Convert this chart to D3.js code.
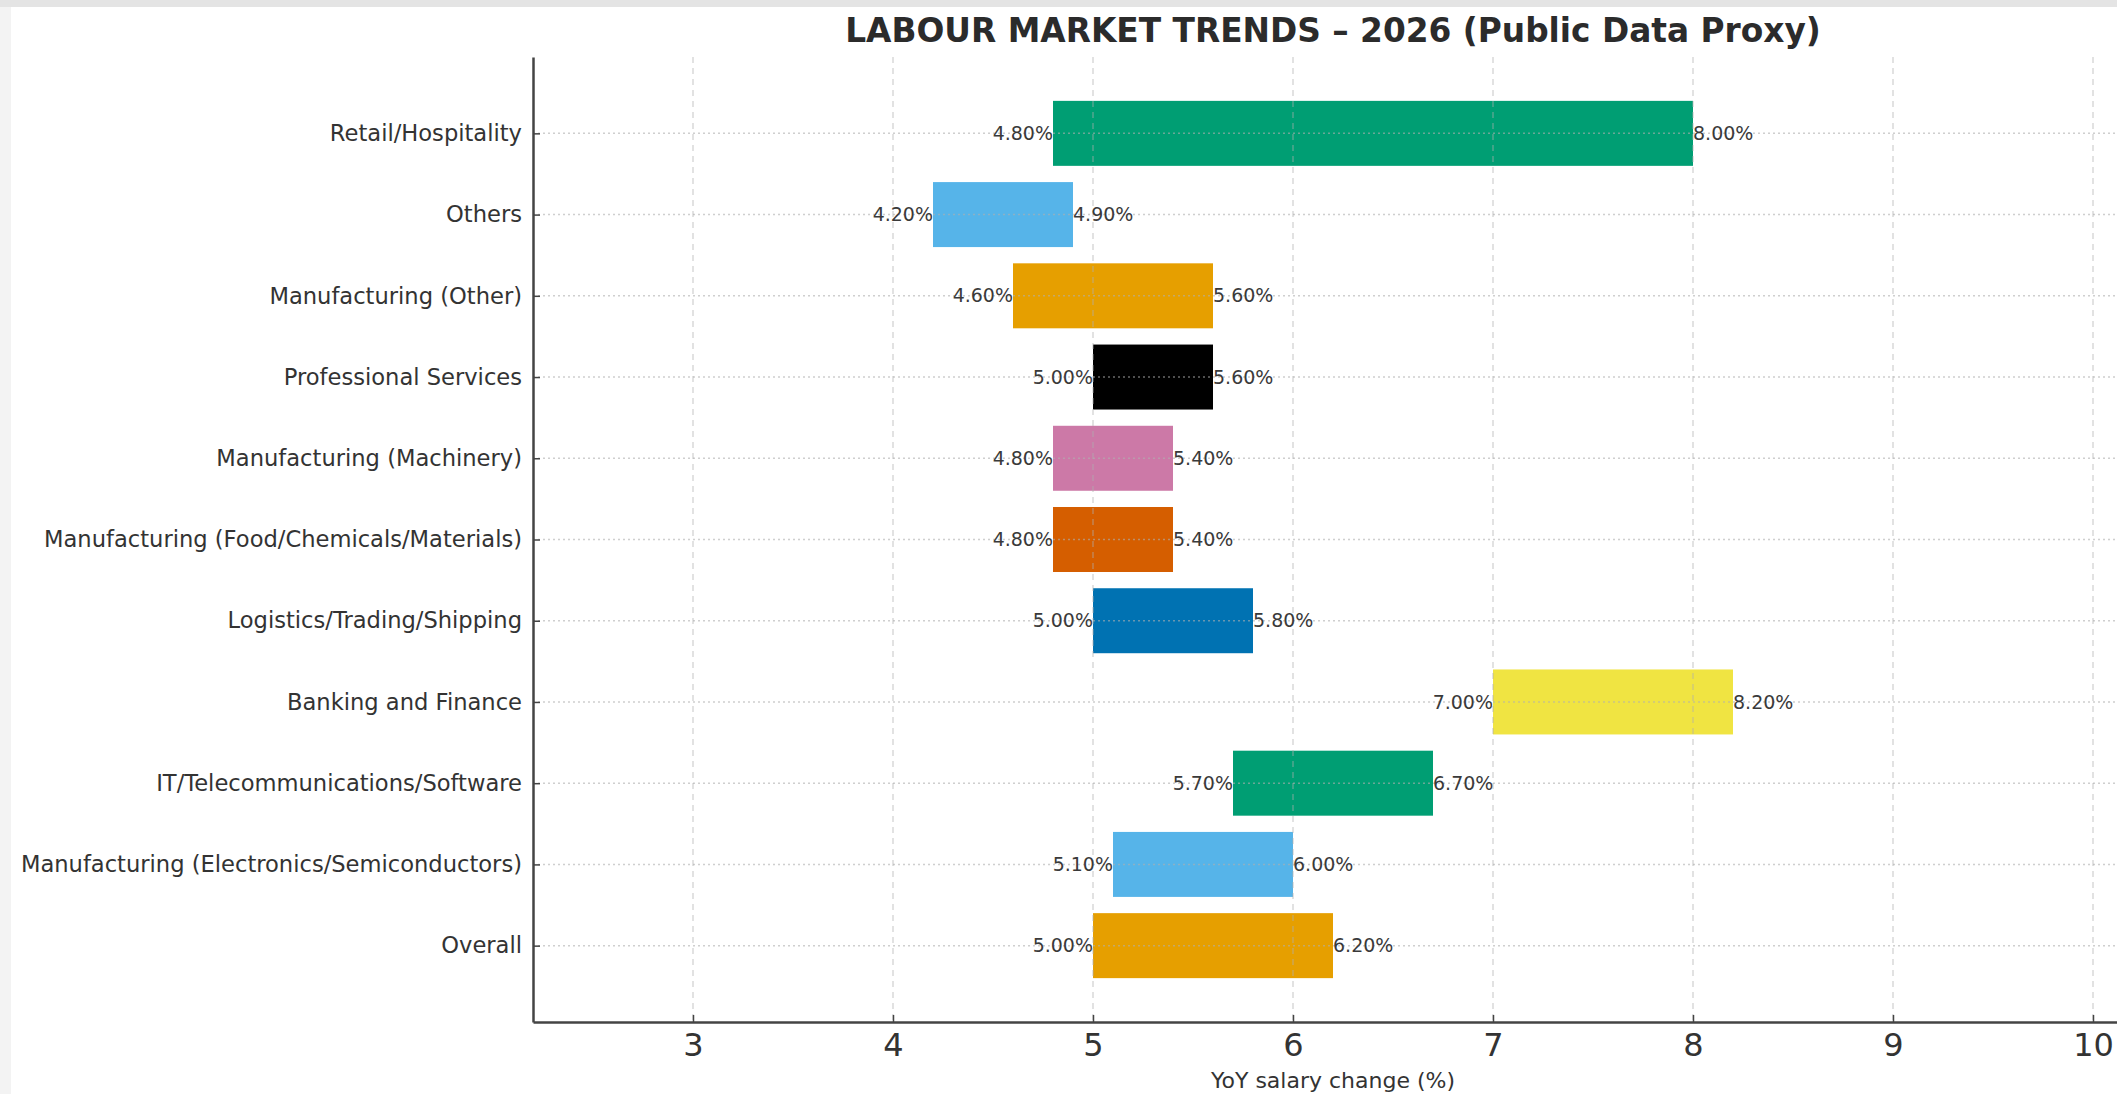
<!DOCTYPE html>
<html>
<head>
<meta charset="utf-8">
<script src="https://cdn.jsdelivr.net/npm/d3@7"></script>
<style>
  html, body { margin: 0; padding: 0; background: #fff; }
  svg { display: block; }
  .axis text { font-family: "DejaVu Sans", sans-serif; fill: #333; }
  .axis path, .axis line { stroke: #444; }
</style>
</head>
<body>
<div id="chart"></div>
<script>
// categories, bottom to top (matplotlib barh order)
var categories = ["Overall", "Manufacturing (Electronics/Semiconductors)", "IT/Telecommunications/Software",
  "Banking and Finance", "Logistics/Trading/Shipping", "Manufacturing (Food/Chemicals/Materials)",
  "Manufacturing (Machinery)", "Professional Services", "Manufacturing (Other)", "Others", "Retail/Hospitality"];
var lowValues  = [5.0, 5.1, 5.7, 7.0, 5.0, 4.8, 4.8, 5.0, 4.6, 4.2, 4.8];
var highValues = [6.2, 6.0, 6.7, 8.2, 5.8, 5.4, 5.4, 5.6, 5.6, 4.9, 8.0];
var xTicks = [3, 4, 5, 6, 7, 8, 9, 10];
var palette = ["#E69F00", "#56B4E9", "#009E73", "#F0E442", "#0072B2", "#D55E00", "#CC79A7", "#000000"];

var W = 2117, H = 1094;
var margin = {top: 57, right: -16, bottom: 72, left: 533};
var width = W - margin.left - margin.right;
var height = H - margin.top - margin.bottom;

var data = categories.map(function(c, i){
  return {name: c, idx: i, lo: lowValues[i], hi: highValues[i]};
});

var x = d3.scaleLinear().domain([2.2, 10.2]).range([0, width]);
var y = d3.scaleLinear().domain([-0.94, categories.length - 1 + 0.94]).range([height, 0]);
var barH = y(0) - y(0.8);

var svg = d3.select('#chart').append('svg')
  .attr('width', W).attr('height', H);

// screenshot border bits
svg.append('rect').attr('x', 0).attr('y', 0).attr('width', W).attr('height', 7).attr('fill', '#e4e4e4');
svg.append('rect').attr('x', 0).attr('y', 7).attr('width', 11).attr('height', H - 7).attr('fill', '#f3f3f3');

var g = svg.append('g').attr('transform', 'translate(' + margin.left + ',' + margin.top + ')');

// bars
g.selectAll('rect.bar')
  .data(data)
  .enter().append('rect')
  .attr('class', 'bar')
  .attr('x', function(d){ return x(d.lo); })
  .attr('width', function(d){ return x(d.hi) - x(d.lo); })
  .attr('y', function(d){ return y(d.idx) - barH / 2; })
  .attr('height', barH)
  .attr('fill', function(d, i){ return palette[i % palette.length]; });

// grid on top, faint
g.append('g').selectAll('line')
  .data(xTicks)
  .enter().append('line')
  .attr('x1', function(d){ return x(d); }).attr('x2', function(d){ return x(d); })
  .attr('y1', 0).attr('y2', height)
  .attr('stroke', '#b0b0b0').attr('stroke-width', 1.2)
  .attr('stroke-dasharray', '6,5').attr('opacity', 0.6);

g.append('g').selectAll('line')
  .data(data)
  .enter().append('line')
  .attr('x1', 0).attr('x2', width)
  .attr('y1', function(d){ return y(d.idx); }).attr('y2', function(d){ return y(d.idx); })
  .attr('stroke', '#b0b0b0').attr('stroke-width', 1.5)
  .attr('stroke-dasharray', '2,3').attr('opacity', 0.6);

// value labels
var fmt = function(v){ return v.toFixed(2) + '%'; };
g.selectAll('text.lo')
  .data(data)
  .enter().append('text')
  .attr('class', 'lo')
  .attr('x', function(d){ return x(d.lo); })
  .attr('y', function(d){ return y(d.idx); })
  .attr('dy', '0.35em')
  .attr('text-anchor', 'end')
  .style('font-family', '"DejaVu Sans", sans-serif')
  .style('font-size', '19px')
  .style('fill', '#3a3a3a')
  .text(function(d){ return fmt(d.lo); });

g.selectAll('text.hi')
  .data(data)
  .enter().append('text')
  .attr('class', 'hi')
  .attr('x', function(d){ return x(d.hi); })
  .attr('y', function(d){ return y(d.idx); })
  .attr('dy', '0.35em')
  .attr('text-anchor', 'start')
  .style('font-family', '"DejaVu Sans", sans-serif')
  .style('font-size', '19px')
  .style('fill', '#3a3a3a')
  .text(function(d){ return fmt(d.hi); });

// axes
var xAxis = g.append('g')
  .attr('class', 'x axis')
  .attr('transform', 'translate(0,' + height + ')')
  .call(d3.axisBottom(x).tickValues(xTicks).tickFormat(d3.format('d')).tickSize(-7).tickSizeOuter(0).tickPadding(11));
xAxis.select('.domain').attr('stroke-width', 2.5);
xAxis.selectAll('.tick line').attr('stroke-width', 1.5);
xAxis.selectAll('text').style('font-size', '32px');

var yAxis = g.append('g')
  .attr('class', 'y axis')
  .call(d3.axisLeft(y).tickValues(d3.range(categories.length))
    .tickFormat(function(i){ return categories[i]; }).tickSize(-7).tickSizeOuter(0).tickPadding(11));
yAxis.select('.domain').attr('stroke-width', 2.5);
yAxis.selectAll('.tick line').attr('stroke-width', 1.5);
yAxis.selectAll('text').style('font-size', '22.6px');

// axis title
g.append('text')
  .attr('x', width / 2)
  .attr('y', height + 66)
  .attr('text-anchor', 'middle')
  .style('font-family', '"DejaVu Sans", sans-serif')
  .style('font-size', '22px')
  .style('fill', '#333')
  .text('YoY salary change (%)');

// chart title
svg.append('text')
  .attr('x', margin.left + width / 2)
  .attr('y', 42)
  .attr('text-anchor', 'middle')
  .style('font-family', '"DejaVu Sans", sans-serif')
  .style('font-weight', 'bold')
  .style('font-size', '32.8px')
  .style('fill', '#2b2b2b')
  .text('LABOUR MARKET TRENDS \u2013 2026 (Public Data Proxy)');
</script>
</body>
</html>
